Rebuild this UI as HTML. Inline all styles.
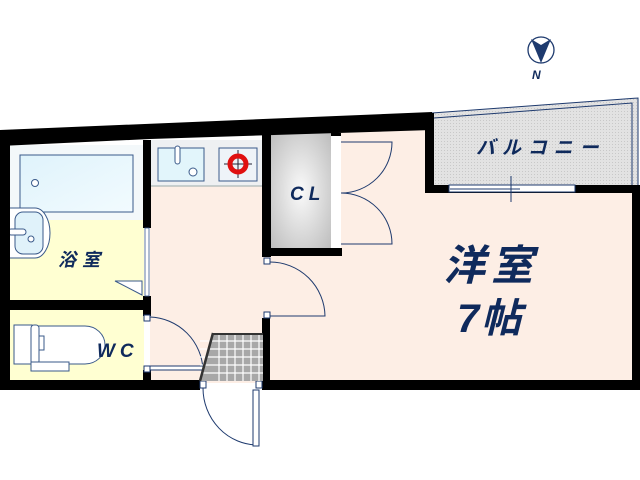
<!DOCTYPE html>
<html><head><meta charset="utf-8"><style>
html,body{margin:0;padding:0;background:#fff;width:640px;height:480px;overflow:hidden}
svg{display:block}
text{font-family:"Liberation Sans","Noto Sans CJK JP",sans-serif;fill:#0f2a5c;font-weight:bold;font-style:italic}
</style></head><body>
<svg width="640" height="480" viewBox="0 0 640 480" xmlns="http://www.w3.org/2000/svg">
<defs>
<pattern id="hatch" width="3" height="3" patternUnits="userSpaceOnUse"><rect width="3" height="3" fill="#e2e2e2"/><rect width="1" height="1" fill="#c8c8c8"/></pattern>
<radialGradient id="clg" cx="0.5" cy="0.5" r="0.7"><stop offset="0" stop-color="#fafafa"/><stop offset="1" stop-color="#bdbdbd"/></radialGradient>
<linearGradient id="tub" x1="0" y1="0" x2="1" y2="1"><stop offset="0" stop-color="#dff3fb"/><stop offset="1" stop-color="#f2fbff"/></linearGradient>
</defs>
<rect x="265" y="128" width="170" height="255" fill="#fdeee5"/>
<rect x="430" y="190" width="205" height="193" fill="#fdeee5"/>
<rect x="150" y="185" width="115" height="198" fill="#fdeee5"/>
<polygon points="430,113 638,98 638,190 430,190" fill="url(#hatch)"/>
<polyline points="432,113 638,98 638,190" fill="none" stroke="#1e3a6e" stroke-width="1"/>
<polyline points="434,118 632,103 632,186" fill="none" stroke="#1e3a6e" stroke-width="1"/>
<rect x="150" y="140" width="112" height="46" fill="#eef0f2"/>
<line x1="150" y1="186" x2="262" y2="186" stroke="#9aa" stroke-width="1"/>
<rect x="158" y="148" width="46" height="33" fill="#e2f5fb" stroke="#3a5a8a"/>
<rect x="175" y="146" width="5" height="18" rx="2.5" fill="#fff" stroke="#3a5a8a"/>
<circle cx="193" cy="172" r="4" fill="#fff" stroke="#3a5a8a"/>
<rect x="219" y="148" width="38" height="33" fill="#eef3f8" stroke="#3a5a8a"/>
<line x1="224" y1="164" x2="252" y2="164" stroke="#223" stroke-width="1"/>
<line x1="238" y1="150" x2="238" y2="178" stroke="#223" stroke-width="1"/>
<circle cx="238" cy="164" r="8" fill="none" stroke="#e01010" stroke-width="5"/>
<rect x="10" y="145" width="134" height="157" fill="#f3f8fa"/>
<rect x="10" y="220" width="134" height="82" fill="#ffffd2"/>
<rect x="20" y="155" width="113" height="57" fill="url(#tub)" stroke="#3a5a8a"/>
<circle cx="35" cy="183" r="3.5" fill="#fff" stroke="#3a5a8a"/>
<path d="M8,208 H35 A15,25 0 0 1 35,258 H8 Z" fill="#fff" stroke="#3a5a8a"/>
<rect x="15" y="212" width="28" height="42" rx="8" fill="#e0f2fa" stroke="#3a5a8a"/>
<rect x="8" y="229" width="18" height="6" rx="3" fill="#fff" stroke="#3a5a8a"/>
<circle cx="31" cy="239" r="3" fill="#fff" stroke="#3a5a8a"/>
<polygon points="115,281 142,281 142,295" fill="#fff" stroke="#3a5a8a"/>
<text x="58" y="266" font-size="18" letter-spacing="6">浴室</text>
<rect x="10" y="309" width="134" height="72" fill="#ffffd2"/>
<path d="M32,326 H85 A20,19 0 0 1 85,364 H32 Z" fill="#fff" stroke="#3a5a8a"/>
<rect x="14" y="325" width="18" height="39" fill="#fff" stroke="#3a5a8a"/>
<rect x="31" y="325" width="8" height="39" rx="3" fill="#fff" stroke="#3a5a8a"/>
<rect x="39" y="336" width="5" height="14" fill="#fff" stroke="#3a5a8a"/>
<rect x="31" y="362" width="38" height="9" fill="#fff" stroke="#3a5a8a"/>
<text x="97" y="357" font-size="19" letter-spacing="5">WC</text>
<rect x="271" y="133" width="60" height="116" fill="url(#clg)"/>
<rect x="331" y="135" width="10" height="113" fill="#fff"/>
<text x="290" y="200" font-size="19" letter-spacing="5">CL</text>
<g fill="#000">
<polygon points="0,130 432,112 432,130 150,139 0,146"/>
<rect x="0" y="130" width="10" height="260"/>
<rect x="0" y="380" width="200" height="10"/>
<rect x="262" y="380" width="378" height="10"/>
<rect x="632" y="186" width="8" height="204"/>
<rect x="425" y="113" width="9" height="80"/>
<rect x="425" y="185" width="215" height="8"/>
<rect x="10" y="300" width="140" height="10"/>
<rect x="143" y="140" width="8" height="88"/>
<rect x="143" y="296" width="8" height="20"/>
<rect x="143" y="370" width="8" height="12"/>
<rect x="262" y="133" width="9" height="124"/>
<rect x="262" y="248" width="80" height="8"/>
<rect x="262" y="318" width="8" height="64"/>
<rect x="331" y="133" width="10" height="3"/>
</g>
<rect x="145" y="228" width="4" height="68" fill="#fff" stroke="#3a5a8a" stroke-width="0.8"/>
<rect x="449" y="185" width="126" height="7" fill="#fff" stroke="#1e3a6e"/>
<line x1="450" y1="189" x2="520" y2="189" stroke="#1e3a6e"/>
<line x1="511" y1="176" x2="511" y2="202" stroke="#1e3a6e"/>
<g fill="none" stroke="#1e3a6e" stroke-width="1">
<path d="M341,142 H392 A51,51 0 0 1 341,193"/>
<path d="M341,193 A51,51 0 0 1 392,244 H341"/>
<path d="M270,262 A55,55 0 0 1 325,316 H270"/>
<rect x="264" y="258" width="6" height="6" fill="#fff"/>
<rect x="264" y="312" width="6" height="6" fill="#fff"/>
<rect x="144" y="315" width="6" height="6" fill="#fff"/>
<rect x="144" y="366" width="6" height="6" fill="#fff"/>
<path d="M150,317 A55,55 0 0 1 203,370"/>
<rect x="150" y="366" width="53" height="4" fill="#fff"/>
<path d="M203,388 A55,57 0 0 0 258,445"/>
<rect x="253" y="390" width="6" height="56" fill="#fff"/>
<rect x="200" y="381" width="6" height="7" fill="#fff"/>
<rect x="256" y="381" width="6" height="7" fill="#fff"/>
</g>
<polygon points="213,333 263,333 263,381 200,381" fill="#a8a8a8"/>
<g stroke="#fff" stroke-width="1.2">
<line x1="200" y1="341" x2="263" y2="341"/><line x1="200" y1="349" x2="263" y2="349"/><line x1="200" y1="357" x2="263" y2="357"/><line x1="200" y1="365" x2="263" y2="365"/><line x1="200" y1="373" x2="263" y2="373"/>
<line x1="219" y1="333" x2="219" y2="381"/><line x1="227" y1="333" x2="227" y2="381"/><line x1="235" y1="333" x2="235" y2="381"/><line x1="243" y1="333" x2="243" y2="381"/><line x1="251" y1="333" x2="251" y2="381"/><line x1="259" y1="333" x2="259" y2="381"/>
</g>
<line x1="213" y1="333" x2="200" y2="381" stroke="#333" stroke-width="2.5"/>
<line x1="213" y1="334" x2="263" y2="334" stroke="#333" stroke-width="2"/>
<text x="476" y="154" font-size="19" font-weight="normal" letter-spacing="7">バルコニー</text>
<text x="443" y="280" font-size="42" letter-spacing="6">洋室</text>
<text x="457" y="332" font-size="40" letter-spacing="2">7帖</text>
<circle cx="541" cy="50" r="13" fill="#fff" stroke="#1e3a6e" stroke-width="1.3"/>
<polygon points="531,39 541,45 551,39 541,63" fill="#1e3a6e"/>
<text x="532" y="79" font-size="12">N</text>
</svg>
</body></html>
